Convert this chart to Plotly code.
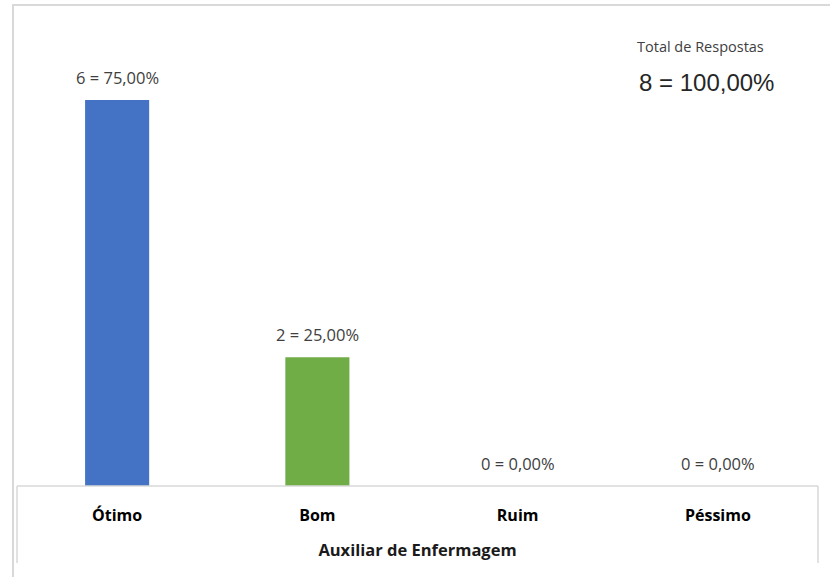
import plotly.graph_objects as go

categories = ["Ótimo", "Bom", "Ruim", "Péssimo"]
counts = [6, 2, 0, 0]
percents = ["75,00%", "25,00%", "0,00%", "0,00%"]
colors = ["#4472C4", "#70AD47", "#A5A5A5", "#FFC000"]
axis_title = "Auxiliar de Enfermagem"
total_title = "Total de Respostas"
total_label = "8 = 100,00%"

W, H = 830, 577
ml, mr, mt, mb = 17, 12, 20, 91
plot_h = H - mt - mb
pw = W - ml - mr
ymax = plot_h / 64.33


def px(xp):
    return (xp - ml) / pw


def py(yp):
    return (H - mb - yp) / plot_h


fig = go.Figure()
fig.add_trace(go.Bar(
    x=categories, y=counts, marker=dict(color=colors, line=dict(width=0)),
    width=0.32, hoverinfo="skip",
))

for c, v, p in zip(categories, counts, percents):
    fig.add_annotation(x=c, y=v, text=f"{v} = {p}", showarrow=False,
                       xanchor="center", yanchor="bottom", yshift=9,
                       font=dict(family="Open Sans", size=16.5, color="#404040"))

fig.add_annotation(xref="paper", yref="paper", x=px(700), y=py(47),
                   xanchor="center", yanchor="middle",
                   text=total_title, showarrow=False,
                   font=dict(family="Open Sans", size=14.5, color="#404040"))
fig.add_annotation(xref="paper", yref="paper", x=px(706), y=py(82),
                   xanchor="center", yanchor="middle",
                   text=total_label, showarrow=False,
                   font=dict(family="Liberation Sans", size=24, color="#262626"))

# outer border
fig.add_shape(type="rect", xref="paper", yref="paper",
              x0=px(13), x1=px(840), y0=py(600), y1=py(5),
              line=dict(color="#D9D9D9", width=2), layer="below")
# inner axis box
for (x0, y0, x1, y1) in [(17, 486, 818, 486), (17, 486, 17, 563), (818, 486, 818, 563)]:
    fig.add_shape(type="line", xref="paper", yref="paper",
                  x0=px(x0), x1=px(x1), y0=py(y0), y1=py(y1),
                  line=dict(color="#D9D9D9", width=1.5))

fig.update_layout(
    width=W, height=H, margin=dict(l=ml, r=mr, t=mt, b=mb),
    paper_bgcolor="white", plot_bgcolor="white", showlegend=False,
    xaxis=dict(showgrid=False, zeroline=False, showline=False, ticks="",
               ticklabelstandoff=18, automargin=False, fixedrange=True,
               tickfont=dict(family="Open Sans", size=16, color="#000000", weight="bold"),
               title=dict(text=axis_title, standoff=19,
                          font=dict(family="Open Sans", size=16.5, color="#1a1a1a", weight="bold"))),
    yaxis=dict(visible=False, range=[0, ymax], fixedrange=True),
)

fig.write_html("out.html", config={"displayModeBar": False},
               post_script="document.body.style.margin='0px';")
